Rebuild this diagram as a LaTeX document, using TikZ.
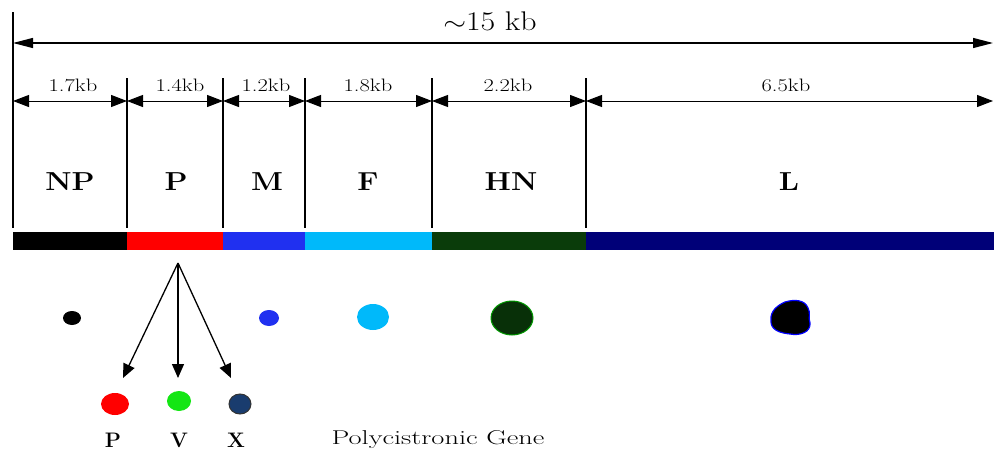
\documentclass[tikz,border=0pt]{standalone}
\usetikzlibrary{arrows.meta}
\definecolor{cblue}{RGB}{32,48,240}
\definecolor{clight}{RGB}{0,185,250}
\definecolor{cgreen}{RGB}{10,60,10}
\definecolor{cnavy}{RGB}{0,0,120}
\definecolor{cred}{RGB}{255,0,0}
\definecolor{cvgreen}{RGB}{20,230,20}
\definecolor{cxblue}{RGB}{25,60,110}
\tikzset{
  dim/.style={{Triangle[length=16pt,width=12pt]}-{Triangle[length=16pt,width=12pt]}, line width=1pt},
  bigdim/.style={{Triangle[length=20pt,width=10pt]}-{Triangle[length=20pt,width=10pt]}, line width=1.2pt},
  tick/.style={line width=1.4pt},
  seglbl/.style={font=\fontsize{18}{18}\selectfont, inner sep=0pt, xscale=1.25},
  reglbl/.style={font=\fontsize{26}{26}\selectfont\bfseries, inner sep=0pt, xscale=1.15},
  sublbl/.style={font=\fontsize{21}{21}\selectfont\bfseries, inner sep=0pt},
  split/.style={-{Triangle[length=14pt,width=12pt]}, line width=1.3pt},
}
\begin{document}
\begin{tikzpicture}[x=1pt,y=-1pt]
\useasboundingbox (0,0) rectangle (994,455);
% tick coordinates
\coordinate (t0) at (13,101); \coordinate (t1) at (127,101);
\coordinate (t2) at (223,101); \coordinate (t3) at (305,101);
\coordinate (t4) at (432,101); \coordinate (t5) at (586,101);
\coordinate (t6) at (993,101);
\coordinate (a0) at (13,43); \coordinate (a1) at (993,43);
% vertical lines
\draw[tick] (13,12) -- (13,228);
\foreach \x in {127,223,305,432,586} \draw[tick] (\x,78) -- (\x,228);
% arrows
\draw[bigdim] (a0) -- (a1);
\node[font=\fontsize{27}{27}\selectfont, inner sep=0pt, xscale=1.18] (total) at (490,21) {$\sim$15 kb};
\draw[dim] (t0) -- (t1); \draw[dim] (t1) -- (t2); \draw[dim] (t2) -- (t3);
\draw[dim] (t3) -- (t4); \draw[dim] (t4) -- (t5); \draw[dim] (t5) -- (t6);
\node[seglbl] (l1) at (73,85) {1.7kb};
\node[seglbl] (l2) at (180,85) {1.4kb};
\node[seglbl] (l3) at (266,85) {1.2kb};
\node[seglbl] (l4) at (368,85) {1.8kb};
\node[seglbl] (l5) at (508,85) {2.2kb};
\node[seglbl] (l6) at (786,85) {6.5kb};
% region labels
\node[reglbl] (NP) at (70,182) {NP};
\node[reglbl] (P) at (176,182) {P};
\node[reglbl] (M) at (267,182) {M};
\node[reglbl] (F) at (368,182) {F};
\node[reglbl] (HN) at (511,182) {HN};
\node[reglbl] (L) at (789,182) {L};
% bar
\fill[black] (13,232) rectangle (127,250);
\fill[cred] (127,232) rectangle (223,250);
\fill[cblue] (223,232) rectangle (305,250);
\fill[clight] (305,232) rectangle (432,250);
\fill[cgreen] (432,232) rectangle (586,250);
\fill[cnavy] (586,232) rectangle (994,250);
% protein dots
\fill[black] (72,318) ellipse (9 and 7);
\fill[cblue] (269,318) ellipse (10 and 8);
\fill[clight] (373,317) ellipse (16 and 13);
\filldraw[fill=cgreen!80!black, draw=green!60!black, line width=1pt] (512,318) ellipse (21 and 17);
\filldraw[fill=black, draw=blue, line width=1.2pt]
  (785,302) .. controls (795,299) and (805,300) .. (808,308)
  .. controls (811,313) and (808,318) .. (810,323)
  .. controls (811,332) and (800,336) .. (790,334)
  .. controls (780,333) and (770,330) .. (771,320)
  .. controls (770,311) and (778,305) .. (785,302) -- cycle;
% split arrows
\coordinate (src) at (178,263);
\coordinate (dP) at (123,378);
\coordinate (dV) at (178,378);
\coordinate (dX) at (231,378);
\draw[split] (src) -- (dP);
\draw[split] (src) -- (dV);
\draw[split] (src) -- (dX);
\fill[cred] (115,404) ellipse (14 and 11);
\fill[cvgreen] (179,401) ellipse (12 and 10);
\filldraw[fill=cxblue, draw=black!80, line width=1pt] (240,404) ellipse (11 and 10);
\node[sublbl] (sP) at (113,440) {P};
\node[sublbl] (sV) at (179,440) {V};
\node[sublbl] (sX) at (236,440) {X};
\node[font=\fontsize{20}{20}\selectfont, inner sep=0pt, xscale=1.42] (poly) at (438,440) {Polycistronic Gene};
\end{tikzpicture}
\end{document}
